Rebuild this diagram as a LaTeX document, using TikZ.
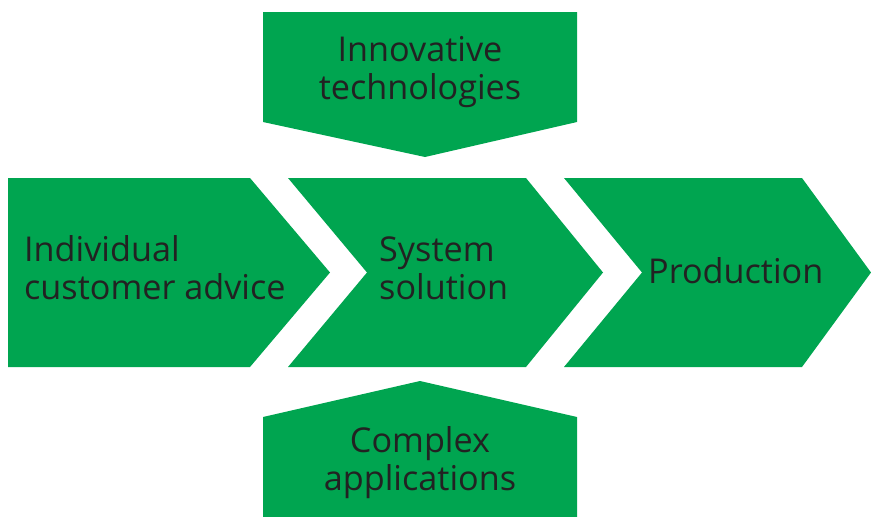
\documentclass[tikz,border=0pt]{standalone}
\usepackage{fontspec}
\setmainfont{Open Sans}
\definecolor{fgreen}{HTML}{00A550}
\definecolor{ftext}{HTML}{222222}
\begin{document}
\begin{tikzpicture}[x=1pt,y=-1pt,
  shp/.style={fill=fgreen,draw=none},
  lbl/.style={text=ftext,inner sep=0pt,font=\fontsize{34.2}{38}\selectfont},
  lw/.style={lbl,anchor=base west},
  lc/.style={lbl,anchor=base}]
\useasboundingbox (0,0) rectangle (871,517);
% main chevrons
\fill[shp] (8,178) -- (250,178) -- (330,272.5) -- (250,367) -- (8,367) -- cycle;
\fill[shp] (288,178) -- (526,178) -- (603,272.5) -- (526,367) -- (288,367) -- (367,272.5) -- cycle;
\fill[shp] (564,178) -- (802,178) -- (871,272.5) -- (802,367) -- (564,367) -- (642,272.5) -- cycle;
% top pentagon
\fill[shp] (263,12) -- (577,12) -- (577,122) -- (425,157) -- (263,122) -- cycle;
% bottom pentagon
\fill[shp] (263,417) -- (420,381) -- (577,417) -- (577,517) -- (263,517) -- cycle;
% texts
\node[lw] (a1) at (24,261) {Individual};
\node[lw] (a2) at (24,299) {customer advice};
\node[lw] (b1) at (379,261) {System};
\node[lw] (b2) at (379,299) {solution};
\node[lw] (c1) at (648,283) {Production};
\node[lc] (t1) at (420,61) {Innovative};
\node[lc] (t2) at (420,99) {technologies};
\node[lc] (d1) at (420,452) {Complex};
\node[lc] (d2) at (420,490) {applications};
\end{tikzpicture}
\end{document}
